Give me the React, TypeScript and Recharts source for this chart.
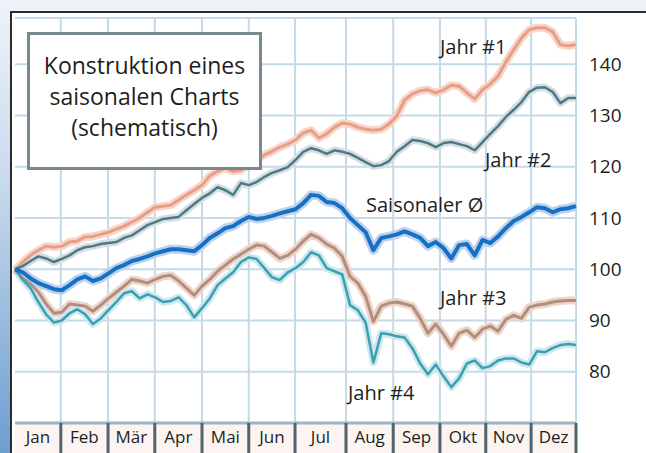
import React from 'react';
import { LineChart, Line, XAxis, YAxis, CartesianGrid, ReferenceLine } from 'recharts';

const months = ['Jan', 'Feb', 'Mär', 'Apr', 'Mai', 'Jun', 'Jul', 'Aug', 'Sep', 'Okt', 'Nov', 'Dez'];
// month boundaries on the time axis (in months)
const monthEdges = [0, 0.98, 1.99, 2.99, 4.0, 5.0, 5.99, 7.08, 8.09, 9.09, 10.07, 11.04, 12];
const yTicks = [80, 90, 100, 110, 120, 130, 140];
const samplesPerMonth = 6;

const jahr1 = [
  99.8, 101.4, 102.7, 103.7, 104.5, 104.3, 104.5, 105.3, 105.5, 106.3,
  106.4, 106.8, 107.2, 107.8, 108.4, 109.2, 110.0, 111.1, 112.1, 112.3,
  112.5, 113.5, 114.5, 115.4, 116.4, 118.2, 119.1, 119.7, 119.1, 119.3,
  120.3, 121.3, 122.3, 123.0, 123.8, 124.4, 125.2, 126.6, 127.1, 125.6,
  126.4, 127.7, 128.5, 128.3, 127.7, 127.3, 127.1, 127.3, 128.3, 129.9,
  133.0, 134.2, 134.8, 135.0, 134.4, 135.0, 135.9, 135.7, 134.4, 133.2,
  135.0, 136.1, 137.7, 140.4, 142.8, 145.1, 146.7, 147.1, 147.1, 146.3,
  143.8, 143.6, 143.8,
];
const jahr2 = [
  100, 100.6, 101.6, 102.5, 102.1, 101.4, 102.0, 102.7, 103.7, 104.3,
  104.5, 104.9, 105.1, 105.3, 106.1, 106.6, 107.6, 108.6, 109.2, 109.8,
  110.0, 110.2, 111.5, 112.7, 113.9, 114.8, 116.0, 115.4, 114.5, 116.8,
  116.4, 117.0, 118.0, 118.8, 119.3, 119.9, 121.3, 122.9, 123.6, 123.2,
  122.5, 123.2, 122.9, 122.5, 121.7, 120.9, 120.1, 120.3, 121.1, 122.9,
  124.0, 125.2, 125.0, 124.6, 123.8, 124.6, 124.8, 124.4, 124.0, 123.2,
  124.8, 126.4, 127.9, 129.7, 131.1, 132.6, 134.6, 135.4, 135.5, 134.6,
  132.4, 133.4, 133.4,
];
const saisonal = [
  100, 99.4, 98.2, 97.3, 96.7, 96.1, 95.9, 96.9, 98.0, 98.6,
  97.7, 98.2, 99.2, 100.2, 100.8, 101.6, 102.0, 102.5, 103.1, 103.5,
  103.9, 103.9, 103.7, 103.5, 104.7, 106.1, 107.0, 108.0, 108.4, 109.4,
  110.2, 109.8, 110.0, 110.4, 110.9, 111.3, 111.7, 112.9, 114.5, 114.3,
  113.1, 112.9, 111.9, 110.0, 108.6, 107.2, 103.7, 106.1, 106.4, 106.8,
  107.4, 106.8, 106.1, 104.5, 105.3, 104.1, 102.1, 104.7, 104.9, 102.7,
  105.7, 105.1, 106.4, 108.0, 109.4, 110.2, 111.1, 112.1, 111.9, 111.1,
  111.7, 111.9, 112.3,
];
const jahr3 = [
  100, 98.2, 97.1, 95.5, 93.2, 91.4, 91.6, 93.2, 93.0, 92.8,
  91.8, 93.0, 94.3, 95.5, 96.7, 98.0, 97.7, 97.3, 98.0, 98.6,
  98.8, 97.7, 96.3, 94.9, 96.7, 98.0, 99.6, 100.8, 102.0, 102.9,
  103.9, 104.7, 104.5, 103.3, 102.1, 102.7, 103.9, 105.5, 106.8, 106.1,
  104.9, 104.1, 102.5, 98.6, 97.3, 94.7, 89.8, 92.8, 93.4, 93.6,
  93.2, 92.8, 90.4, 87.5, 89.3, 87.3, 85.0, 87.5, 88.1, 86.7,
  88.3, 88.9, 87.9, 90.2, 91.0, 90.4, 92.6, 93.0, 93.2, 93.6,
  93.8, 93.9, 93.9,
];
const jahr4 = [
  100, 97.9, 96.3, 93.6, 91.2, 89.6, 90.0, 91.4, 92.2, 91.2,
  89.3, 90.4, 92.0, 93.6, 95.3, 95.7, 94.3, 95.1, 94.5, 93.6,
  93.8, 94.5, 93.0, 90.6, 92.4, 94.3, 96.9, 98.2, 99.4, 101.4,
  102.3, 102.0, 100.2, 98.4, 97.9, 99.4, 100.2, 101.4, 103.3, 102.7,
  100.2, 99.6, 99.0, 93.0, 92.0, 89.6, 81.8, 87.5, 87.3, 86.9,
  86.7, 84.6, 81.6, 79.5, 81.4, 79.1, 77.0, 78.7, 81.6, 82.2,
  80.7, 81.1, 82.2, 82.6, 82.6, 81.8, 81.4, 84.0, 83.8, 84.6,
  85.2, 85.4, 85.2,
];

const data = saisonal.map((v, i) => ({
  t: i / samplesPerMonth,
  j1: jahr1[i],
  j2: jahr2[i],
  s: v,
  j3: jahr3[i],
  j4: jahr4[i],
}));

const monthCenters = months.map((_, i) => (monthEdges[i] + monthEdges[i + 1]) / 2);
const edgeSet = new Set(monthEdges);
const xTicks = [...monthEdges.slice(1), ...monthCenters].sort((a, b) => a - b);

const FONT = '"Open Sans", sans-serif';

const series = [
  { key: 'j1', core: '#e99c86', halo: '#f7d6ca', w: 3 },
  { key: 'j2', core: '#507784', halo: '#d3dfe3', w: 2.5 },
  { key: 'j3', core: '#b08e80', halo: '#efd4c8', w: 3 },
  { key: 'j4', core: '#3b9fb2', halo: '#cde7ee', w: 2.5 },
  { key: 's', core: '#1670c4', halo: '#bcd2ee', w: 4 },
];

const MonthTick = (props: any) => {
  const { x, y, payload } = props;
  const v = payload.value;
  if (edgeSet.has(v)) {
    return <line x1={x} x2={x} y1={y} y2={y + 30} stroke="#52646b" strokeWidth={3} />;
  }
  const idx = monthCenters.indexOf(v);
  return (
    <text x={x} y={y + 20} textAnchor="middle" fontSize={17} fill="#1e1e1e" fontFamily={FONT}>
      {months[idx]}
    </text>
  );
};

const labelStyle: React.CSSProperties = {
  position: 'absolute',
  fontFamily: FONT,
  fontSize: 20,
  color: '#1e1e1e',
  lineHeight: '20px',
  whiteSpace: 'nowrap',
};

export default function App() {
  return (
    <div
      style={{
        position: 'absolute',
        left: 0,
        top: 0,
        width: 646,
        height: 453,
        overflow: 'hidden',
        background: 'linear-gradient(180deg, #eef3f9 0%, #c9daed 40%, #6c9ed1 100%)',
      }}
    >
      <div
        style={{
          position: 'absolute',
          left: 10,
          top: 11,
          right: 0,
          bottom: 0,
          background: '#ffffff',
          borderLeft: '2px solid #2b2b2b',
          borderTop: '2px solid #2b2b2b',
        }}
      />
      <div style={{ position: 'absolute', left: 15, top: 423, width: 561, height: 30, background: '#fbf4f1' }} />
      <div style={{ position: 'absolute', left: 0, top: 0 }}>
        <LineChart width={646} height={453} data={data} margin={{ top: 18, right: 0, left: 15, bottom: 0 }}>
          <CartesianGrid vertical={false} stroke="#c4dae7" strokeWidth={2} />
          {monthEdges.slice(1).map((e) => (
            <ReferenceLine key={e} x={e} stroke="#c4dae7" strokeWidth={2} />
          ))}
          <XAxis
            dataKey="t"
            type="number"
            domain={[0, 12]}
            ticks={xTicks}
            interval={0}
            tick={<MonthTick />}
            tickLine={false}
            tickSize={0}
            tickMargin={0}
            height={30}
            axisLine={{ stroke: '#9fb4bd', strokeWidth: 3 }}
          />
          <YAxis
            orientation="right"
            domain={[70, 149]}
            ticks={yTicks}
            width={70}
            axisLine={false}
            tickLine={false}
            tickSize={6}
            tickMargin={7}
            tick={{ fontSize: 19, fill: '#1e1e1e', fontFamily: FONT }}
          />
          {series.map((s) => (
            <Line
              key={s.key + 'h'}
              dataKey={s.key}
              type="linear"
              stroke={s.halo}
              strokeWidth={s.w + 5}
              dot={false}
              strokeLinejoin="round"
              isAnimationActive={false}
            />
          ))}
          {series.map((s) => (
            <Line
              key={s.key}
              dataKey={s.key}
              type="linear"
              stroke={s.core}
              strokeWidth={s.w}
              dot={false}
              strokeLinejoin="round"
              isAnimationActive={false}
            />
          ))}
        </LineChart>
      </div>
      <div
        style={{
          position: 'absolute',
          left: 27,
          top: 32,
          width: 229,
          height: 117,
          border: '3px solid #78888f',
          background: '#ffffff',
          fontFamily: FONT,
          fontSize: 23,
          lineHeight: '31px',
          color: '#1e1e1e',
          textAlign: 'center',
          paddingTop: 15,
          boxSizing: 'content-box',
        }}
      >
        Konstruktion eines
        <br />
        saisonalen Charts
        <br />
        (schematisch)
      </div>
      <div style={{ ...labelStyle, left: 440, top: 37 }}>Jahr #1</div>
      <div style={{ ...labelStyle, left: 485, top: 150 }}>Jahr #2</div>
      <div style={{ ...labelStyle, left: 366, top: 195 }}>Saisonaler Ø</div>
      <div style={{ ...labelStyle, left: 440, top: 288 }}>Jahr #3</div>
      <div style={{ ...labelStyle, left: 348, top: 383 }}>Jahr #4</div>
    </div>
  );
}
